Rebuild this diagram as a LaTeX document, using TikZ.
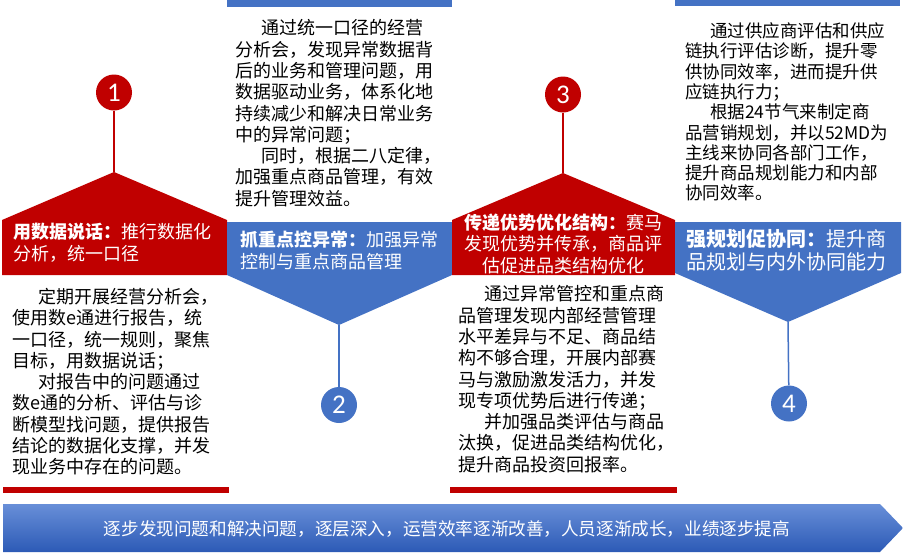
\documentclass[tikz,border=0pt]{standalone}
\usepackage{fontspec}
\setmainfont{Noto Sans CJK SC}
\newfontfamily\numfont{Carlito}
\definecolor{myred}{HTML}{C00000}
\definecolor{myblue}{HTML}{4472C4}
\definecolor{arrowtop}{RGB}{104,143,216}
\definecolor{arrowbot}{RGB}{44,90,182}
\begin{document}
\begin{tikzpicture}[x=1pt,y=-1pt,
  bodytext/.style={anchor=north west, inner sep=0pt, align=left, text=black, font=\fontsize{18}{21.3}\selectfont},
  bannertext/.style={inner sep=0pt, text=white, font=\fontsize{18}{21.5}\selectfont},
  numcirc/.style={circle, minimum size=36pt, inner sep=0pt, text=white, font=\numfont\fontsize{27}{27}\selectfont},
  redfill/.style={fill=myred},
  bluefill/.style={fill=myblue},
  stem/.style={line width=1.5pt}
]
\useasboundingbox (0,0) rectangle (903,552);

% top and bottom bars
\fill[myblue] (227,0) rectangle (452,7);
\fill[myblue] (675,0) rectangle (900,6);
\fill[myred] (3,487) rectangle (229,493);
\fill[myred] (450,487) rectangle (677,493);

% banner shapes
\coordinate (p1) at (114,172);
\coordinate (p2) at (339,325);
\coordinate (p3) at (563,173);
\coordinate (p4) at (788,322);
\fill[redfill] (2,275) -- (2,220) -- (p1) -- (227,220) -- (227,275) -- cycle;
\fill[bluefill] (227,222) -- (452,222) -- (452,275) -- (p2) -- (227,275) -- cycle;
\fill[redfill] (452,275) -- (452,220) -- (p3) -- (675,220) -- (675,275) -- cycle;
\fill[bluefill] (675,222) -- (901,222) -- (901,273) -- (p4) -- (675,273) -- cycle;

% circles
\node[numcirc, fill=myred] (c1) at (114,92.5) {1};
\node[numcirc, fill=myblue] (c2) at (339,405) {2};
\node[numcirc, fill=myred] (c3) at (563,94.5) {3};
\node[numcirc, fill=myblue] (c4) at (789,403.5) {4};
\draw[stem, myred] (c1) -- (p1);
\draw[stem, myblue] (c2) -- (p2);
\draw[stem, myred] (c3) -- (p3);
\draw[stem, myblue] (c4) -- (p4);

% banner texts
\node[bannertext, anchor=west, align=left] (b1) at (13,243)
  {\textbf{用数据说话：}推行数据化\\分析，统一口径};
\node[bannertext, anchor=west, align=left] (b2) at (240,250.5)
  {\textbf{抓重点控异常：}加强异常\\控制与重点商品管理};
\node[bannertext, align=center] (b3) at (563,243.5)
  {\textbf{传递优势优化结构：}赛马\\发现优势并传承，商品评\\估促进品类结构优化};
\node[bannertext, anchor=west, align=left, font=\fontsize{20}{23}\selectfont] (b4) at (686,250.5)
  {\textbf{强规划促协同：}提升商\\品规划与内外协同能力};

% body texts
\node[bodytext] (t1) at (12,288)
  {\hspace*{26pt}定期开展经营分析会，\\
   使用数e通进行报告，统\\
   一口径，统一规则，聚焦\\
   目标，用数据说话；\\
   \hspace*{26pt}对报告中的问题通过\\
   数e通的分析、评估与诊\\
   断模型找问题，提供报告\\
   结论的数据化支撑，并发\\
   现业务中存在的问题。};
\node[bodytext] (t2) at (235,19.5)
  {\hspace*{26pt}通过统一口径的经营\\
   分析会，发现异常数据背\\
   后的业务和管理问题，用\\
   数据驱动业务，体系化地\\
   持续减少和解决日常业务\\
   中的异常问题；\\
   \hspace*{26pt}同时，根据二八定律，\\
   加强重点商品管理，有效\\
   提升管理效益。};
\node[bodytext] (t3) at (458,285.5)
  {\hspace*{26pt}通过异常管控和重点商\\
   品管理发现内部经营管理\\
   水平差异与不足、商品结\\
   构不够合理，开展内部赛\\
   马与激励激发活力，并发\\
   现专项优势后进行传递；\\
   \hspace*{26pt}并加强品类评估与商品\\
   汰换，促进品类结构优化，\\
   提升商品投资回报率。};
\node[bodytext, font=\fontsize{17.5}{20.3}\selectfont] (t4) at (685,22.5)
  {\hspace*{25pt}通过供应商评估和供应\\
   链执行评估诊断，提升零\\
   供协同效率，进而提升供\\
   应链执行力；\\
   \hspace*{25pt}根据24节气来制定商\\
   品营销规划，并以52MD为\\
   主线来协同各部门工作，\\
   提升商品规划能力和内部\\
   协同效率。};

% bottom arrow
\shade[top color=arrowtop, bottom color=arrowbot]
  (3,504) -- (880,504) -- (903,528) -- (880,552) -- (3,552) -- cycle;
\node[inner sep=0pt, text=white, font=\fontsize{17.6}{20}\selectfont] (bt) at (447,529)
  {逐步发现问题和解决问题，逐层深入，运营效率逐渐改善，人员逐渐成长，业绩逐步提高};
\end{tikzpicture}
\end{document}
